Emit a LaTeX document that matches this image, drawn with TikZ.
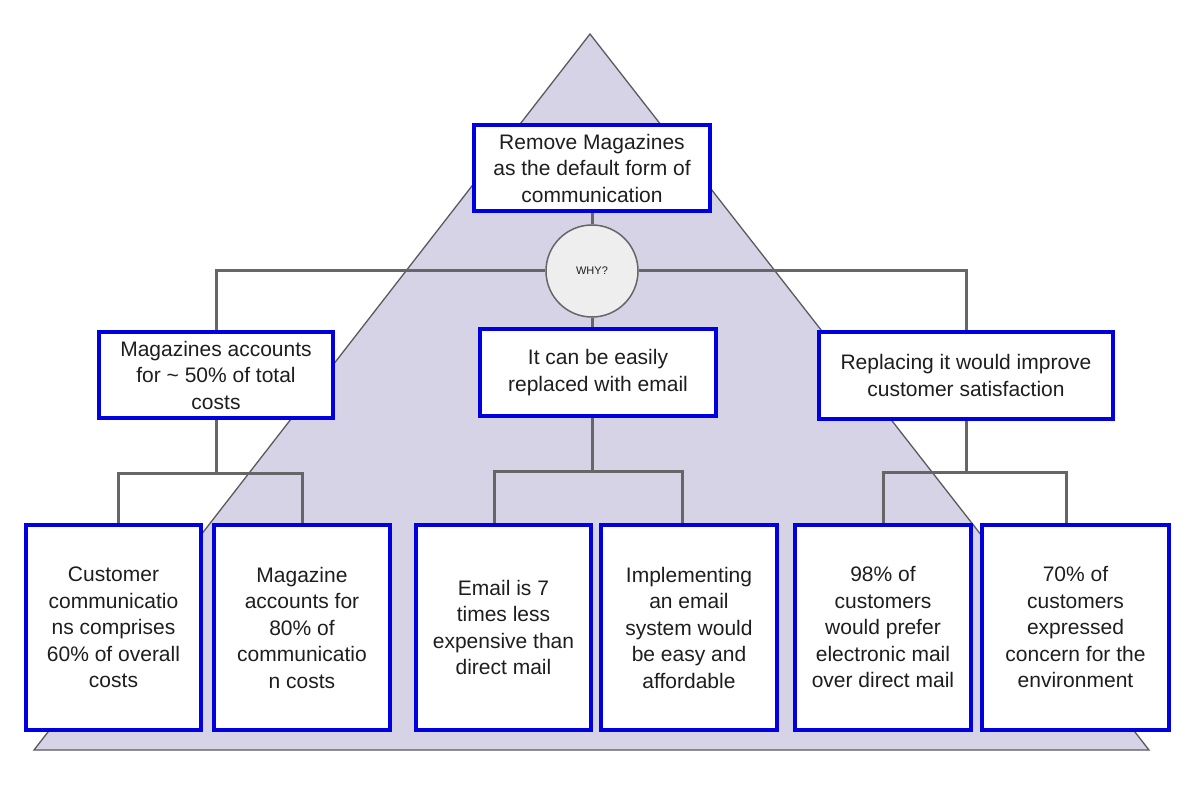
\documentclass[tikz,border=0pt]{standalone}
\usepackage{fontspec}
\setmainfont{Liberation Sans}
\usetikzlibrary{backgrounds}
\definecolor{tri}{HTML}{D6D3E7}
\definecolor{trl}{HTML}{5A5A5A}
\definecolor{bblue}{HTML}{0000E0}
\definecolor{lgray}{HTML}{666666}
\definecolor{cfill}{HTML}{EEEEEE}
\definecolor{txt}{HTML}{1E1E1E}
\begin{document}
\begin{tikzpicture}[x=1pt,y=-1pt,
  box/.style={draw=bblue, line width=4pt, fill=white, align=center, inner sep=0pt,
    font=\fontsize{21}{26.5}\selectfont, text=txt},
  conn/.style={draw=lgray, line width=3pt},
  whynode/.style={circle, draw=lgray, fill=cfill, line width=1.5pt, minimum size=92pt,
    inner sep=0pt, font=\fontsize{11}{13}\selectfont, text=txt}]
\useasboundingbox (0,0) rectangle (1200,786);
% nodes
\node[box, minimum width=236pt, minimum height=86pt] (top) at (592,168)
  {Remove Magazines\\as the default form of\\communication};
\node[whynode] (why) at (592,271) {WHY?};
\node[box, minimum width=234pt, minimum height=86pt] (L) at (216,375)
  {Magazines accounts\\for \textasciitilde{} 50\% of total\\costs};
\node[box, minimum width=236pt, minimum height=87pt] (C) at (598,372.5)
  {It can be easily\\replaced with email};
\node[box, minimum width=294pt, minimum height=87pt] (R) at (966,375.5)
  {Replacing it would improve\\customer satisfaction};
\node[box, minimum width=175pt, minimum height=205pt] (B1) at (113.5,627.5)
  {Customer\\communicatio\\ns comprises\\60\% of overall\\costs};
\node[box, minimum width=176pt, minimum height=205pt] (B2) at (302,627.5)
  {Magazine\\accounts for\\80\% of\\communicatio\\n costs};
\node[box, minimum width=175pt, minimum height=205pt] (B3) at (503.5,627.5)
  {Email is 7\\times less\\expensive than\\direct mail};
\node[box, minimum width=176pt, minimum height=205pt] (B4) at (689,627.5)
  {Implementing\\an email\\system would\\be easy and\\affordable};
\node[box, minimum width=176pt, minimum height=205pt] (B5) at (883,627.5)
  {98\% of\\customers\\would prefer\\electronic mail\\over direct mail};
\node[box, minimum width=187pt, minimum height=205pt] (B6) at (1075.5,627.5)
  {70\% of\\customers\\expressed\\concern for the\\environment};
\begin{scope}[on background layer]
  \draw[fill=tri, draw=trl, line width=1.3pt, line join=miter]
    (590,34) -- (34,750) -- (1149,750) -- cycle;
  % top level
  \draw[conn] (top.south) -- (why.north);
  \draw[conn] (why.west) -- (L.north |- why.west) -- (L.north);
  \draw[conn] (why.east) -- (R.north |- why.east) -- (R.north);
  \draw[conn] (why.south) -- (why.south |- C.north);
  % left tree
  \draw[conn] (L.south) -- ++(0,53) coordinate (lj);
  \draw[conn] ([xshift=4.5pt]B1.north) |- (lj) -| (B2.north);
  % center tree
  \draw[conn] (why.south |- C.south) -- ++(0,53) coordinate (cj);
  \draw[conn] ([xshift=-9.5pt]B3.north) |- (cj) -| ([xshift=-7pt]B4.north);
  % right tree
  \draw[conn] (R.south) -- ++(0,51) coordinate (rj);
  \draw[conn] (B5.north) |- (rj) -| ([xshift=-9.5pt]B6.north);
\end{scope}
\end{tikzpicture}
\end{document}
